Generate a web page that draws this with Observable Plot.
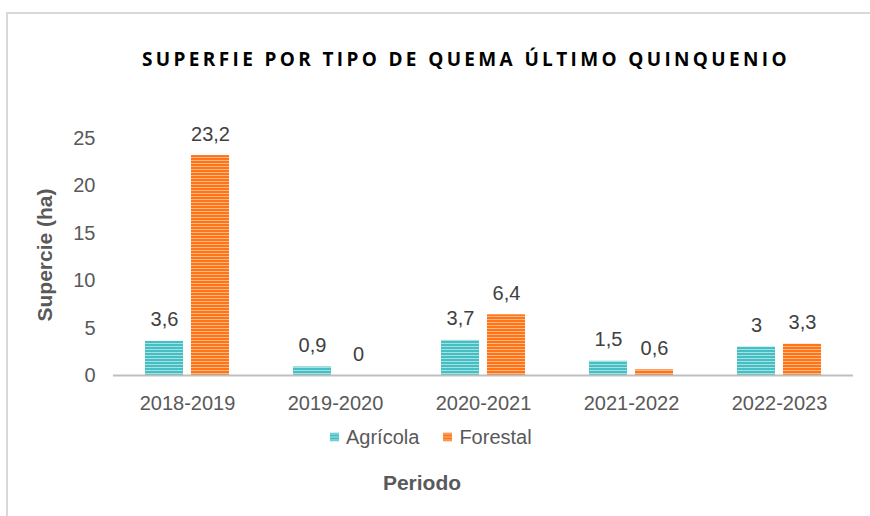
<!DOCTYPE html>
<html>
<head>
<meta charset="utf-8">
<script src="https://cdn.jsdelivr.net/npm/d3@7"></script>
<script src="https://cdn.jsdelivr.net/npm/@observablehq/plot@0.6"></script>
<style>
  html, body { margin: 0; padding: 0; background: #fff; }
  #wrap { position: relative; width: 870px; height: 516px; overflow: hidden; font-family: "Liberation Sans", Arial, sans-serif; }
  #frame { position: absolute; left: 6px; top: 12px; width: 900px; height: 600px; border-left: 2px solid #d9d9d9; border-top: 2px solid #d9d9d9; box-sizing: border-box; }
  #title { position: absolute; top: 46px; left: 0; white-space: nowrap; font-family: "Open Sans", sans-serif; font-weight: 700; font-size: 19px; color: #000; }
  #chart { position: absolute; left: 0; top: 0; }
  #ytitle { position: absolute; left: 45px; top: 255px; transform: translate(-50%, -50%) rotate(-90deg); white-space: nowrap; font-weight: 700; font-size: 21px; color: #595959; }
  #xtitle { position: absolute; left: 422px; top: 483px; transform: translate(-50%, -50%); white-space: nowrap; font-weight: 700; font-size: 21px; color: #595959; }
  #legend { position: absolute; top: 437px; left: 330px; transform: translateY(-50%); display: flex; align-items: center; font-size: 20px; color: #595959; white-space: nowrap; }
  #legend .item { display: flex; align-items: center; }
  #legend svg { margin-right: 7px; }
</style>
</head>
<body>
<svg width="0" height="0" style="position:absolute">
  <defs>
    <pattern id="stripeAgri" patternUnits="userSpaceOnUse" width="6" height="3">
      <rect width="6" height="3" fill="#45BFC4"></rect>
      <rect y="1" width="6" height="1" fill="#A3E0E2"></rect>
    </pattern>
    <pattern id="stripeFor" patternUnits="userSpaceOnUse" width="6" height="3">
      <rect width="6" height="3" fill="#FF7416"></rect>
      <rect y="1" width="6" height="1" fill="#FFB784"></rect>
    </pattern>
  </defs>
</svg>
<div id="wrap">
  <div id="frame"></div>
  <div id="title">SUPERFIE POR TIPO DE QUEMA ÚLTIMO QUINQUENIO</div>
  <div id="chart"></div>
  <div id="ytitle">Supercie (ha)</div>
  <div id="legend"></div>
  <div id="xtitle">Periodo</div>
</div>
<script>
// ---- data ----
const periods = ["2018-2019", "2019-2020", "2020-2021", "2021-2022", "2022-2023"];
const series = ["Agrícola", "Forestal"];
const agricola = [3.6, 0.9, 3.7, 1.5, 3];
const forestal = [23.2, 0, 6.4, 0.6, 3.3];
const yTicks = [0, 5, 10, 15, 20, 25];
const seriesFill = ["url(#stripeAgri)", "url(#stripeFor)"];

const rows = [];
periods.forEach((p, i) => {
  rows.push({period: p, type: series[0], value: agricola[i]});
  rows.push({period: p, type: series[1], value: forestal[i]});
});
const fmt = v => String(v).replace(".", ",");

const chart = Plot.plot({
  width: 870,
  height: 516,
  marginTop: 138,
  marginBottom: 141,
  marginLeft: 113,
  marginRight: 17,
  style: {fontFamily: "'Liberation Sans', Arial, sans-serif", fontSize: "20px", color: "#595959", background: "transparent", overflow: "visible"},
  fx: {domain: periods, padding: 0, label: null},
  x: {domain: series, paddingInner: 0.17, paddingOuter: 0.66, axis: null},
  y: {domain: [0, 25], label: null},
  color: {domain: series, range: seriesFill},
  marks: [
    Plot.axisY({ticks: yTicks, tickSize: 0, tickPadding: 18, label: null, fill: "#595959"}),
    Plot.axisFx({anchor: "bottom", tickSize: 0, tickPadding: 20, label: null, fill: "#595959"}),
    Plot.barY(rows, {fx: "period", x: "type", y: "value", fill: "type"}),
    Plot.ruleY([0], {stroke: "#bfbfbf", strokeWidth: 2}),
    Plot.text(rows, {fx: "period", x: "type", y: "value", text: d => fmt(d.value), dy: -15, lineAnchor: "bottom", fill: "#404040", fontSize: 20})
  ]
});
document.getElementById("chart").appendChild(chart);

// legend
const legend = document.getElementById("legend");
series.forEach((s, i) => {
  const item = document.createElement("div");
  item.className = "item";
  if (i > 0) item.style.marginLeft = "24px";
  item.innerHTML = `<svg width="9" height="9"><rect width="9" height="9" fill="${seriesFill[i]}"></rect></svg><span>${s}</span>`;
  legend.appendChild(item);
});

// title: fit to span x 142..790 with letter spacing
const title = document.getElementById("title");
const targetW = 648;
const n = title.textContent.length;
const w0 = title.getBoundingClientRect().width;
const ls = (targetW - w0) / n;
title.style.letterSpacing = ls + "px";
title.style.left = "142px";
</script>
</body>
</html>
